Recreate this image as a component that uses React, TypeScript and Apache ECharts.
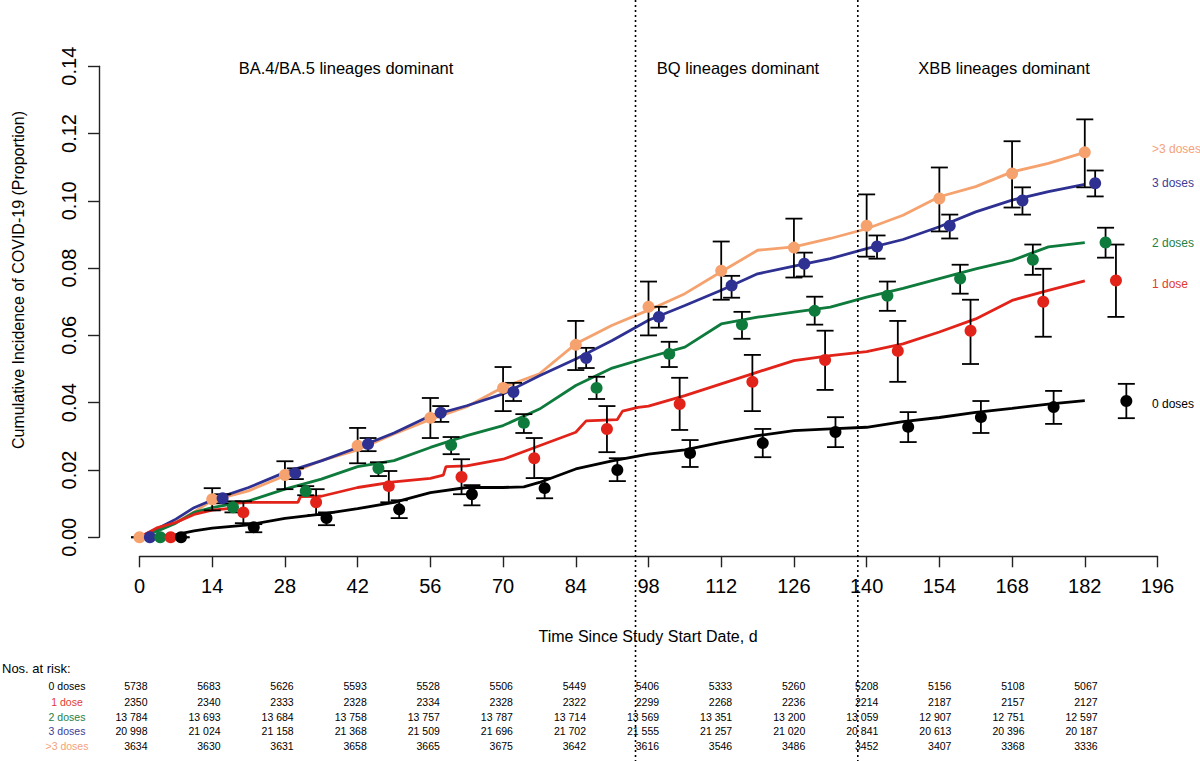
import { useEffect, useRef } from 'react';
import * as echarts from 'echarts';

const FONT = '"Liberation Sans", Arial, sans-serif';

const GROUPS = ['>3 doses', '3 doses', '2 doses', '1 dose', '0 doses'];
const LINE_COLORS = ['#F5A26E', '#2E3192', '#0E7A3C', '#E2231A', '#000000'];
const LABEL_COLORS = ['#F4A27A', '#3C3C9A', '#1E8045', '#E23A33', '#000000'];

// step curves (cumulative incidence)
const curveDays = [0, 3.5, 7, 10.5, 14, 21, 28, 35, 42, 49, 56, 63, 70, 77, 84, 91, 98, 105, 112, 119, 126, 133, 140, 147, 154, 161, 168, 175, 182];
const orangeCum = [0, 0.0025, 0.0045, 0.0075, 0.011, 0.0138, 0.0183, 0.0228, 0.026, 0.0307, 0.035, 0.0388, 0.0446, 0.0486, 0.0575, 0.063, 0.0675, 0.0724, 0.0789, 0.0853, 0.0863, 0.0888, 0.0917, 0.0957, 0.1012, 0.1042, 0.1086, 0.1111, 0.1144];
const blueCum = [0, 0.0026, 0.0054, 0.0088, 0.0111, 0.0148, 0.0193, 0.0227, 0.0267, 0.031, 0.0361, 0.0391, 0.0426, 0.048, 0.053, 0.0585, 0.0645, 0.0689, 0.0734, 0.0783, 0.0806, 0.0828, 0.0858, 0.0885, 0.0923, 0.0967, 0.1002, 0.1027, 0.1049];
const greenCum = [0, 0.0019, 0.0042, 0.0074, 0.0088, 0.0108, 0.0143, 0.0173, 0.021, 0.0228, 0.0267, 0.0302, 0.0332, 0.0381, 0.0451, 0.0503, 0.0535, 0.0565, 0.0634, 0.0654, 0.0669, 0.0684, 0.0714, 0.074, 0.0769, 0.0798, 0.0823, 0.0863, 0.0876];
const redDays = [0, 3.5, 7, 10.5, 14, 17.5, 18, 21, 30.5, 31, 35, 42, 49, 56, 58.5, 59, 63, 70, 77, 84, 86, 92, 93, 96, 98, 105, 112, 119, 126, 133, 140, 147, 154, 161, 168, 175, 182];
const redCum = [0, 0.0029, 0.0044, 0.0068, 0.0081, 0.0086, 0.0101, 0.0104, 0.0104, 0.0121, 0.0122, 0.0148, 0.0165, 0.0175, 0.0185, 0.021, 0.0212, 0.0232, 0.0272, 0.0312, 0.0346, 0.035, 0.0375, 0.0386, 0.039, 0.0421, 0.0456, 0.0491, 0.0525, 0.054, 0.0552, 0.0575, 0.061, 0.0649, 0.0704, 0.0734, 0.0762];
const blackDays = [0, 3.5, 7, 10.5, 14, 21, 28, 35, 42, 49, 56, 63, 70, 74, 77, 84, 91, 98, 105, 112, 119, 126, 133, 140, 147, 154, 161, 168, 175, 182];
const blackCum = [0, 0.0004, 0.0008, 0.0019, 0.0027, 0.0037, 0.0056, 0.0069, 0.0085, 0.0104, 0.0133, 0.0148, 0.0148, 0.015, 0.0163, 0.0203, 0.0227, 0.0247, 0.026, 0.0282, 0.0302, 0.0317, 0.0322, 0.0327, 0.0344, 0.0356, 0.0371, 0.0383, 0.0396, 0.0406];

// point estimates with 95% CI at each checkpoint
const checkDays = [0, 14, 28, 42, 56, 70, 84, 98, 112, 126, 140, 154, 168, 182];
const DODGE = [0, 2, 4, 6, 8];

const orangeEst = [0, 0.0113, 0.0185, 0.0272, 0.0355, 0.0444, 0.0572, 0.0685, 0.0792, 0.0861, 0.0926, 0.1007, 0.1081, 0.1144];
const orangeLo = [0, 0.008, 0.0143, 0.022, 0.0295, 0.0375, 0.0497, 0.06, 0.0706, 0.0772, 0.0834, 0.0909, 0.098, 0.104];
const orangeHi = [0, 0.0146, 0.0226, 0.0325, 0.0414, 0.0506, 0.0643, 0.076, 0.0879, 0.0947, 0.1019, 0.1099, 0.1177, 0.1242];

const blueEst = [0, 0.0116, 0.019, 0.0277, 0.037, 0.0432, 0.0533, 0.0655, 0.0748, 0.0813, 0.0864, 0.0926, 0.1001, 0.1052];
const blueLo = [0, 0.0101, 0.0173, 0.0256, 0.0343, 0.0405, 0.0503, 0.0623, 0.0712, 0.0775, 0.0828, 0.0888, 0.0959, 0.1013];
const blueHi = [0, 0.0128, 0.0205, 0.0295, 0.039, 0.0459, 0.0563, 0.0685, 0.0777, 0.0846, 0.0897, 0.0959, 0.104, 0.109];

const greenEst = [0, 0.0089, 0.0137, 0.0205, 0.0274, 0.034, 0.0444, 0.0545, 0.0632, 0.0673, 0.0718, 0.0769, 0.0825, 0.0876];
const greenLo = [0, 0.0074, 0.0125, 0.0182, 0.0247, 0.031, 0.0411, 0.0506, 0.059, 0.0632, 0.0673, 0.0724, 0.078, 0.0831];
const greenHi = [0, 0.0107, 0.0152, 0.0223, 0.0298, 0.0366, 0.0477, 0.0581, 0.067, 0.0715, 0.076, 0.081, 0.087, 0.092];

const redEst = [0, 0.0074, 0.0104, 0.0152, 0.0179, 0.0235, 0.0322, 0.0396, 0.0462, 0.0527, 0.0554, 0.0614, 0.07, 0.0763];
const redLo = [0, 0.0042, 0.0066, 0.0104, 0.0128, 0.0176, 0.0253, 0.0319, 0.0375, 0.0438, 0.0462, 0.0515, 0.0596, 0.0655];
const redHi = [0, 0.0107, 0.0143, 0.0197, 0.0232, 0.0295, 0.039, 0.0474, 0.0542, 0.0614, 0.0643, 0.0706, 0.0798, 0.087];

const blackEst = [0, 0.003, 0.0057, 0.0083, 0.0128, 0.0146, 0.02, 0.025, 0.028, 0.0313, 0.0328, 0.0357, 0.0387, 0.0405];
const blackLo = [0, 0.0015, 0.0036, 0.0057, 0.0095, 0.0116, 0.0167, 0.0209, 0.0238, 0.0268, 0.0283, 0.031, 0.0337, 0.0354];
const blackHi = [0, 0.0039, 0.0074, 0.011, 0.0155, 0.0176, 0.0235, 0.0289, 0.0322, 0.0357, 0.0372, 0.0405, 0.0435, 0.0456];

// numbers at risk
const riskZero = [5738, 5683, 5626, 5593, 5528, 5506, 5449, 5406, 5333, 5260, 5208, 5156, 5108, 5067];
const riskOne = [2350, 2340, 2333, 2328, 2334, 2328, 2322, 2299, 2268, 2236, 2214, 2187, 2157, 2127];
const riskTwo = [13784, 13693, 13684, 13758, 13757, 13787, 13714, 13569, 13351, 13200, 13059, 12907, 12751, 12597];
const riskThree = [20998, 21024, 21158, 21368, 21509, 21696, 21702, 21555, 21257, 21020, 20841, 20613, 20396, 20187];
const riskMore = [3634, 3630, 3631, 3658, 3665, 3675, 3642, 3616, 3546, 3486, 3452, 3407, 3368, 3336];

// lineage periods
const periodBreaks = [95.5, 138.3];
const periodLabels = ['BA.4/BA.5 lineages dominant', 'BQ lineages dominant', 'XBB lineages dominant'];
const periodLabelX = [346, 738, 1004];

const xTicks = { min: 0, max: 196, interval: 14 };
const yTicks = { min: 0, max: 0.14, interval: 0.02 };

const fmtRisk = (n: number) =>
  n >= 10000 ? `${Math.floor(n / 1000)} ${String(n % 1000).padStart(3, '0')}` : String(n);

export default function App() {
  const chartRef = useRef<HTMLDivElement>(null);

  useEffect(() => {
    if (!chartRef.current) return;
    const chart = echarts.init(chartRef.current, undefined, { renderer: 'svg' });

    const curves = [
      curveDays.map((d, i) => [d, orangeCum[i]]),
      curveDays.map((d, i) => [d, blueCum[i]]),
      curveDays.map((d, i) => [d, greenCum[i]]),
      redDays.map((d, i) => [d, redCum[i]]),
      blackDays.map((d, i) => [d, blackCum[i]])
    ];
    const ests = [orangeEst, blueEst, greenEst, redEst, blackEst];
    const los = [orangeLo, blueLo, greenLo, redLo, blackLo];
    const his = [orangeHi, blueHi, greenHi, redHi, blackHi];

    const barData: number[][] = [];
    ests.forEach((est, g) => {
      est.forEach((v, i) => {
        barData.push([checkDays[i] + DODGE[g], v, los[g][i], his[g][i]]);
      });
    });

    const series: any[] = [];
    curves.forEach((data, g) => {
      series.push({
        name: GROUPS[g],
        type: 'line',
        data,
        showSymbol: false,
        z: 2,
        lineStyle: { color: LINE_COLORS[g], width: 2.8 },
        itemStyle: { color: LINE_COLORS[g] }
      });
    });
    series.push({
      type: 'custom',
      z: 3,
      data: barData,
      encode: { x: 0, y: [1, 2, 3] },
      renderItem: (_params: any, api: any) => {
        const x = api.value(0);
        const top = api.coord([x, api.value(3)]);
        const bot = api.coord([x, api.value(2)]);
        const w = 8.5;
        const style = { stroke: '#000', lineWidth: 1.8 };
        return {
          type: 'group',
          children: [
            { type: 'line', shape: { x1: top[0], y1: top[1], x2: bot[0], y2: bot[1] }, style },
            { type: 'line', shape: { x1: top[0] - w, y1: top[1], x2: top[0] + w, y2: top[1] }, style },
            { type: 'line', shape: { x1: bot[0] - w, y1: bot[1], x2: bot[0] + w, y2: bot[1] }, style }
          ]
        };
      }
    });
    ests.forEach((est, g) => {
      series.push({
        name: GROUPS[g] + ' est',
        type: 'scatter',
        z: 4,
        symbolSize: 12,
        itemStyle: { color: LINE_COLORS[g], opacity: 1 },
        data: est.map((v, i) => [checkDays[i] + DODGE[g], v])
      });
    });

    const baseGraphics: any[] = [];
    periodLabels.forEach((t, i) => {
      baseGraphics.push({
        type: 'text', x: periodLabelX[i], y: 68,
        style: { text: t, fill: '#000', font: `16.5px ${FONT}`, textAlign: 'center', textVerticalAlign: 'middle' }
      });
    });
    const endLabelY = [149, 183, 243, 284, 404];
    GROUPS.forEach((t, g) => {
      baseGraphics.push({
        type: 'text', x: 1152, y: endLabelY[g],
        style: { text: t, fill: LABEL_COLORS[g], font: `12px ${FONT}`, textAlign: 'left', textVerticalAlign: 'middle' }
      });
    });
    baseGraphics.push({
      type: 'text', x: 18, y: 280, rotation: Math.PI / 2,
      style: { text: 'Cumulative Incidence of COVID-19 (Proportion)', fill: '#000', font: `16px ${FONT}`, textAlign: 'center', textVerticalAlign: 'middle' }
    });
    baseGraphics.push({
      type: 'text', x: 648, y: 636,
      style: { text: 'Time Since Study Start Date, d', fill: '#000', font: `16px ${FONT}`, textAlign: 'center', textVerticalAlign: 'middle' }
    });

    const option: echarts.EChartsOption = {
      animation: false,
      backgroundColor: '#fff',
      grid: { left: 139.5, right: 42.5, top: 66.2, bottom: 223.7, containLabel: false },
      xAxis: {
        type: 'value',
        ...xTicks,
        offset: 19,
        axisLine: { show: true, onZero: false, lineStyle: { color: '#222', width: 1.4 } },
        axisTick: { show: true, length: 11, lineStyle: { color: '#222', width: 1.4 } },
        axisLabel: { color: '#000', fontSize: 20, fontFamily: FONT, margin: 20 },
        splitLine: { show: false }
      },
      yAxis: {
        type: 'value',
        ...yTicks,
        offset: 40.5,
        axisLine: { show: true, onZero: false, lineStyle: { color: '#222', width: 1.4 } },
        axisTick: { show: true, length: 11, lineStyle: { color: '#222', width: 1.4 } },
        axisLabel: {
          color: '#000', fontSize: 20, fontFamily: FONT, rotate: 90, margin: 20,
          formatter: (v: number) => v.toFixed(2)
        },
        splitLine: { show: false }
      },
      series,
      graphic: baseGraphics
    };

    chart.setOption(option);

    // risk table and lineage breaks, placed on the time scale
    const px = (d: number) => chart.convertToPixel({ xAxisIndex: 0 }, d) as number;
    const extra: any[] = [];
    periodBreaks.forEach((d) => {
      const x = px(d);
      extra.push({
        type: 'line', shape: { x1: x, y1: 0, x2: x, y2: 761 },
        style: { stroke: '#000', lineWidth: 1.6, lineDash: [2, 3] }, z: 10
      });
    });
    extra.push({
      type: 'text', x: 2, y: 668,
      style: { text: 'Nos. at risk:', fill: '#000', font: `13px ${FONT}`, textAlign: 'left', textVerticalAlign: 'middle' }
    });
    const rows = [riskZero, riskOne, riskTwo, riskThree, riskMore];
    const rowY = [686, 701.5, 716.5, 731, 746];
    const rowGroup = [4, 3, 2, 1, 0];
    rows.forEach((row, r) => {
      const g = rowGroup[r];
      extra.push({
        type: 'text', x: 67, y: rowY[r],
        style: { text: GROUPS[g], fill: LABEL_COLORS[g], font: `10.5px ${FONT}`, textAlign: 'center', textVerticalAlign: 'middle' }
      });
      row.forEach((n, i) => {
        const right = px(checkDays[i] * 196 / 195) + 8;
        extra.push({
          type: 'text', x: right, y: rowY[r],
          style: { text: fmtRisk(n), fill: '#000', font: `10.5px ${FONT}`, textAlign: 'right', textVerticalAlign: 'middle' }
        });
      });
    });
    chart.setOption({ graphic: [...baseGraphics, ...extra] });

    return () => {
      chart.dispose();
    };
  }, []);

  return (
    <div
      ref={chartRef}
      style={{ position: 'absolute', left: 0, top: 0, width: 1200, height: 761, background: '#fff' }}
    />
  );
}
